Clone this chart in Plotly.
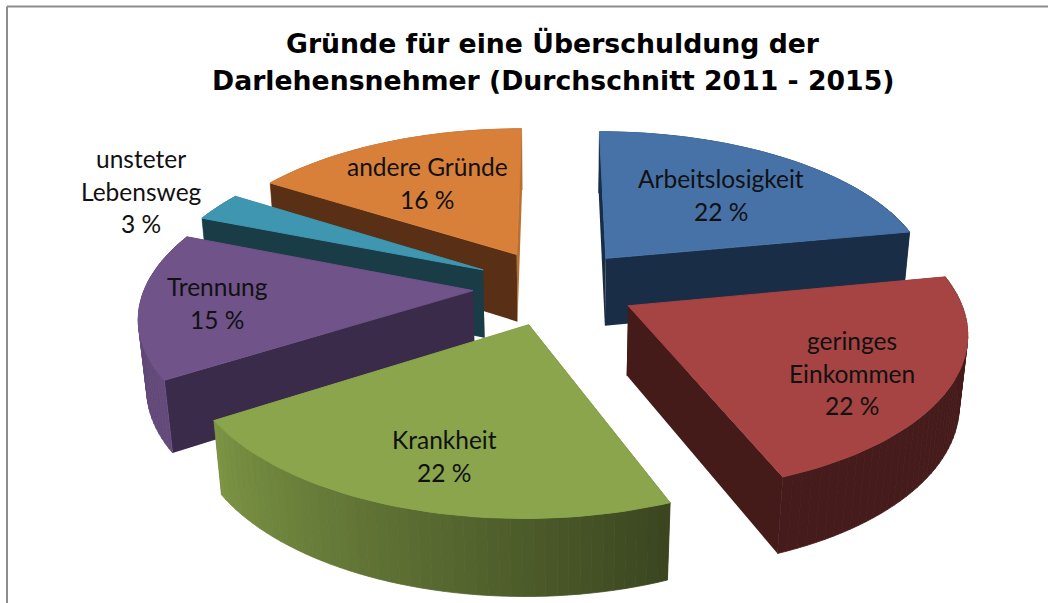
import numpy as np
import plotly.graph_objects as go

categories = ["Arbeitslosigkeit", "geringes\nEinkommen", "Krankheit", "Trennung", "unsteter\nLebensweg", "andere Gründe"]
values = [22, 22, 22, 15, 3, 16]
top_colors = ["#4672a8", "#a54442", "#8aa54c", "#6f5389", "#3f96b0", "#d8803a"]
face_colors = ["#1a2d46", "#451b1a", "#3a4a20", "#3b2b4a", "#1a3c47", "#592f15"]
end_face_colors = ["#1a2d46", "#451b1a", "#3a4a20", "#3b2b4a", "#1a3c47", "#b9702f"]
title_lines = ["Gründe für eine Überschuldung der", "Darlehensnehmer (Durchschnitt 2011 - 2015)"]
label_centers = [(721, 195), (852, 373), (444, 456), (217, 303), (141, 191), (427, 183)]

# projection of the exploded 3D pie
CX, CY, A, B, DEPTH, K, M, EXPL = 555, 287, 328, 153, 70, 0.147, 0.02, 0.25
W, H = 1048, 603


def project(u, v, d):
    s = 1.0 / (1 + K * v + M * d)
    return CX + A * u * s, CY - (B * v - DEPTH * d) * s


def hex2rgb(c):
    return np.array([int(c[i:i + 2], 16) for i in (1, 3, 5)], float)


def shade(c, f):
    r = np.clip(hex2rgb(c) * f, 0, 255).astype(int)
    return f"rgb({r[0]},{r[1]},{r[2]})"


def rim_factor(a):
    return float(np.interp(a, [0, 79, 158, 190, 237, 292, 360], [.45, .42, .42, .62, .9, .8, .7]))


fig = go.Figure()


def poly(xs, ys, color, lw=1.0):
    fig.add_trace(go.Scatter(x=list(xs) + [xs[0]], y=list(ys) + [ys[0]], mode="lines", fill="toself",
                             fillcolor=color, line=dict(color=color, width=lw), hoverinfo="skip", showlegend=False))


slices = []
start = 0.0
total = sum(values)
for val, top, face, end_face in zip(values, top_colors, face_colors, end_face_colors):
    sweep = 360.0 * val / total
    mid = np.radians(start + sweep / 2)
    ou, ov = EXPL * np.sin(mid), EXPL * np.cos(mid)
    slices.append((ov, start, sweep, ou, top, face, end_face))
    start += sweep

for ov, a0, sweep, ou, top, face, end_face in sorted(slices, key=lambda s: -s[0]):
    n = max(4, int(sweep * 0.6))
    ang = np.linspace(a0, a0 + sweep, n + 1)
    rad = np.radians(ang)
    us, vs = ou + np.sin(rad), ov + np.cos(rad)
    sides = []
    for i, fc in ((0, face), (n, end_face)):
        xa, ya = project(ou, ov, 0)
        xb, yb = project(us[i], vs[i], 0)
        xc, yc = project(us[i], vs[i], 1)
        xd, yd = project(ou, ov, 1)
        sides.append(((ov + vs[i]) / 2, [xa, xb, xc, xd], [ya, yb, yc, yd], fc, 0))
    for i in range(n):
        x0, y0 = project(us[i], vs[i], 0)
        x1, y1 = project(us[i + 1], vs[i + 1], 0)
        x2, y2 = project(us[i + 1], vs[i + 1], 1)
        x3, y3 = project(us[i], vs[i], 1)
        sides.append(((vs[i] + vs[i + 1]) / 2, [x0, x1, x2, x3], [y0, y1, y2, y3],
                      shade(top, rim_factor((ang[i] + ang[i + 1]) / 2)), 0.8))
    for _, xs, ys, col, lw in sorted(sides, key=lambda s: -s[0]):
        poly(xs, ys, col, lw)
    tx, ty = project(np.r_[ou, us], np.r_[ov, vs], 0)
    poly(tx.tolist(), ty.tolist(), top, lw=1.0)

ann = []
for name, val, (lx, ly) in zip(categories, values, label_centers):
    lines = name.split("\n") + [f"{val} %"]
    y0 = ly - (len(lines) - 1) * 32.5 / 2
    for j, t in enumerate(lines):
        ann.append(dict(x=lx, y=y0 + j * 32.5, text=t, showarrow=False, xanchor="center", yanchor="middle",
                        font=dict(family="Lato", size=24.5, color="#111111")))
for t, ty in zip(title_lines, (43, 80)):
    ann.append(dict(x=553, y=ty, text=f"<b>{t}</b>", showarrow=False, xanchor="center", yanchor="middle",
                    font=dict(family="DejaVu Sans", size=26.7, color="#000000")))

frame = dict(type="line", line=dict(color="#8c8c8c", width=2), xref="x", yref="y")
fig.update_layout(
    width=W, height=H, margin=dict(l=0, r=0, t=0, b=0), paper_bgcolor="white", plot_bgcolor="white",
    xaxis=dict(range=[0, W], visible=False, fixedrange=True),
    yaxis=dict(range=[H, 0], visible=False, fixedrange=True),
    showlegend=False, annotations=ann,
    shapes=[dict(frame, x0=7, y0=6.5, x1=W, y1=6.5), dict(frame, x0=7, y0=6.5, x1=7, y1=H)],
)
fig.write_html("out.html", config=dict(displayModeBar=False),
               post_script="document.body.style.margin='0';document.body.style.overflow='hidden';")
